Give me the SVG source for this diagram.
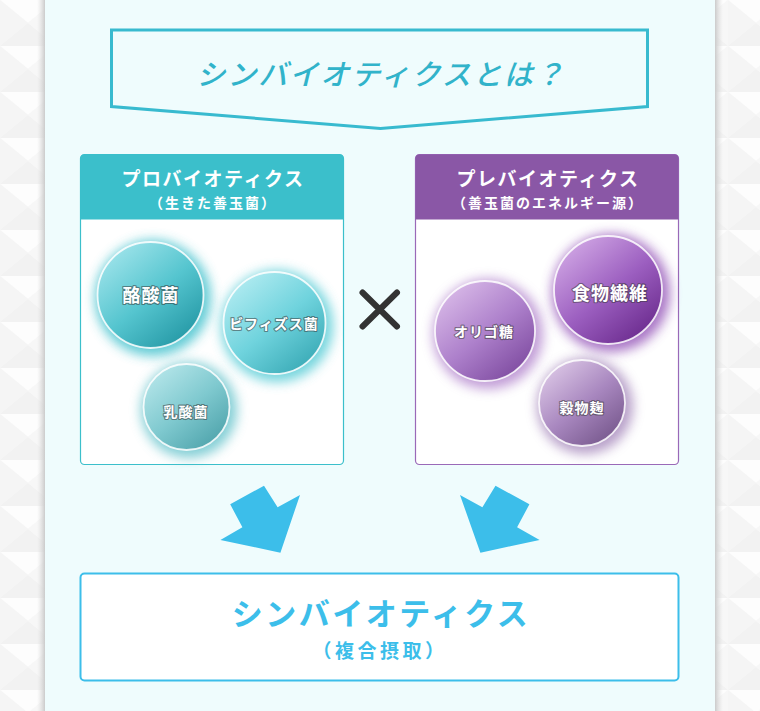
<svg xmlns="http://www.w3.org/2000/svg" width="760" height="711" viewBox="0 0 760 711">
<style>
.jp{font-family:"Noto Sans CJK JP","Noto Sans CJK SC",sans-serif;}
.hdr{fill:#ffffff;font-weight:700;text-anchor:middle;dominant-baseline:central;}
.ctext{fill:#ffffff;font-weight:700;text-anchor:middle;dominant-baseline:central;stroke:#3a3a3a;stroke-opacity:0.55;stroke-width:2.2;paint-order:stroke;stroke-linejoin:round;}
.ring{stroke:#ffffff;stroke-opacity:0.85;stroke-width:1.8;}
.arrow{fill:#3cbeea;}
</style>
<defs>
<pattern id="bgpat" x="0" y="0" width="56" height="46" patternUnits="userSpaceOnUse">
<rect width="56" height="46" fill="#f8f8f8"/>
<polygon points="0,0 56,0 28,23" fill="#fdfdfd"/>
<polygon points="0,46 56,46 28,23" fill="#f2f2f2"/>
<polygon points="0,0 28,23 0,46" fill="#f5f5f5"/>
<polygon points="56,0 28,23 56,46" fill="#f7f7f7"/>
</pattern>
<linearGradient id="shL" x1="0" y1="0" x2="1" y2="0">
<stop offset="0" stop-color="#e0e0e0" stop-opacity="0"/>
<stop offset="1" stop-color="#cbcbcb"/>
</linearGradient>
<linearGradient id="shR" x1="1" y1="0" x2="0" y2="0">
<stop offset="0" stop-color="#e0e0e0" stop-opacity="0"/>
<stop offset="1" stop-color="#cbcbcb"/>
</linearGradient>
<linearGradient id="gT1" x1="0.15" y1="0.1" x2="0.85" y2="0.95">
<stop offset="0" stop-color="#9be2e9"/>
<stop offset="0.5" stop-color="#55c5cf"/>
<stop offset="1" stop-color="#2397a4"/>
</linearGradient>
<linearGradient id="gT2" x1="0.15" y1="0.1" x2="0.85" y2="0.95">
<stop offset="0" stop-color="#aeeaf0"/>
<stop offset="0.5" stop-color="#6fd3dd"/>
<stop offset="1" stop-color="#38a9b5"/>
</linearGradient>
<linearGradient id="gT3" x1="0.15" y1="0.1" x2="0.85" y2="0.95">
<stop offset="0" stop-color="#b2e4e8"/>
<stop offset="0.5" stop-color="#7fc9cf"/>
<stop offset="1" stop-color="#4ea3ab"/>
</linearGradient>
<linearGradient id="gP1" x1="0.15" y1="0.1" x2="0.85" y2="0.95">
<stop offset="0" stop-color="#cda2e2"/>
<stop offset="0.5" stop-color="#9c5fc0"/>
<stop offset="1" stop-color="#6a2a8d"/>
</linearGradient>
<linearGradient id="gP2" x1="0.15" y1="0.1" x2="0.85" y2="0.95">
<stop offset="0" stop-color="#d6b6e6"/>
<stop offset="0.5" stop-color="#ad80cb"/>
<stop offset="1" stop-color="#7d4a9f"/>
</linearGradient>
<linearGradient id="gP3" x1="0.15" y1="0.1" x2="0.85" y2="0.95">
<stop offset="0" stop-color="#d8c2e3"/>
<stop offset="0.5" stop-color="#a887bf"/>
<stop offset="1" stop-color="#76578c"/>
</linearGradient>
<filter id="glow" x="-50%" y="-50%" width="200%" height="200%">
<feGaussianBlur stdDeviation="6"/>
</filter>
</defs>

<!-- background -->
<rect x="0" y="0" width="760" height="711" fill="url(#bgpat)"/>
<rect x="37" y="0" width="8" height="711" fill="url(#shL)"/>
<rect x="715" y="0" width="8" height="711" fill="url(#shR)"/>
<rect x="45" y="0" width="670" height="711" fill="#effcfd"/>

<g id="title">
<polygon points="111.5,30 647.5,30 647.5,106.5 380.5,128.5 111.5,106.5" fill="none" stroke="#38bacf" stroke-width="3"/>
<text class="jp" x="381" y="72" font-size="29" font-weight="500" font-style="italic" fill="#31b3ca" text-anchor="middle" dominant-baseline="central" letter-spacing="2">シンバイオティクスとは？</text>
</g>

<g id="probiotics">
<rect x="80.5" y="154.5" width="263" height="310" rx="4" fill="#ffffff" stroke="#3bbfcb" stroke-width="1.2"/>
<path d="M80.5,219.5 V158.5 a4,4 0 0 1 4,-4 H339.5 a4,4 0 0 1 4,4 V219.5 Z" fill="#3bbfcb"/>
<text class="jp hdr" x="213" y="177" font-size="19" letter-spacing="1.5">プロバイオティクス</text>
<text class="jp hdr" x="213" y="202" font-size="14" letter-spacing="2">（生きた善玉菌）</text>
</g>

<g id="rakusan">
<circle cx="153" cy="298" r="58" fill="#3bbfcb" opacity="0.8" filter="url(#glow)"/>
<circle class="ring" cx="150.5" cy="295" r="53" fill="url(#gT1)"/>
<text class="jp ctext" x="151" y="294" font-size="18" letter-spacing="1">酪酸菌</text>
</g>
<g id="bifidus">
<circle cx="277" cy="326" r="56" fill="#46c7d2" opacity="0.75" filter="url(#glow)"/>
<circle class="ring" cx="274.5" cy="323" r="51" fill="url(#gT2)"/>
<text class="jp ctext" x="274" y="323" font-size="14" letter-spacing="1">ビフィズス菌</text>
</g>
<g id="nyusan">
<circle cx="189" cy="410" r="48" fill="#5bbfc8" opacity="0.75" filter="url(#glow)"/>
<circle class="ring" cx="186.5" cy="407" r="43" fill="url(#gT3)"/>
<text class="jp ctext" x="186" y="411" font-size="14" letter-spacing="1">乳酸菌</text>
</g>

<g id="times">
<path d="M362.5,292.5 L397,326.5 M397,292.5 L362.5,326.5" stroke="#333333" stroke-width="6" stroke-linecap="round" fill="none"/>
</g>

<g id="prebiotics">
<rect x="415.5" y="154.5" width="263" height="310" rx="4" fill="#ffffff" stroke="#9a69b8" stroke-width="1.2"/>
<path d="M415.5,219.5 V158.5 a4,4 0 0 1 4,-4 H674.5 a4,4 0 0 1 4,4 V219.5 Z" fill="#8a57a6"/>
<text class="jp hdr" x="548" y="177" font-size="19" letter-spacing="1.5">プレバイオティクス</text>
<text class="jp hdr" x="548" y="202" font-size="14" letter-spacing="2">（善玉菌のエネルギー源）</text>
</g>

<g id="oligo">
<circle cx="488" cy="334" r="55" fill="#a874c6" opacity="0.7" filter="url(#glow)"/>
<circle class="ring" cx="485" cy="331" r="50" fill="url(#gP2)"/>
<text class="jp ctext" x="484" y="331" font-size="14" letter-spacing="1">オリゴ糖</text>
</g>
<g id="fiber">
<circle cx="611" cy="293" r="59" fill="#8d48b3" opacity="0.75" filter="url(#glow)"/>
<circle class="ring" cx="608" cy="290" r="54" fill="url(#gP1)"/>
<text class="jp ctext" x="610" y="292" font-size="18" letter-spacing="1">食物繊維</text>
</g>
<g id="koji">
<circle cx="585" cy="406" r="48" fill="#9a78b2" opacity="0.7" filter="url(#glow)"/>
<circle class="ring" cx="582" cy="403" r="43" fill="url(#gP3)"/>
<text class="jp ctext" x="582" y="407" font-size="14" letter-spacing="1">穀物麹</text>
</g>

<g id="connectors">
<polygon class="arrow" points="264,485.7 277.6,507.3 300,495 280.4,552.7 220.4,540 242.4,527.3 230.2,504.3"/>
<polygon class="arrow" points="495.5,485.7 529.4,504.3 517.1,527.3 539.6,540 480.4,552.7 460,495 482.4,507.3"/>
</g>

<g id="synbiotics">
<rect x="80.5" y="573.5" width="598" height="107" rx="4" fill="#ffffff" stroke="#3cbeea" stroke-width="2"/>
<text class="jp" x="381" y="611" font-size="31" font-weight="700" fill="#3cbeea" text-anchor="middle" dominant-baseline="central" letter-spacing="2.5">シンバイオティクス</text>
<text class="jp" x="380" y="649" font-size="19" font-weight="700" fill="#3cbeea" text-anchor="middle" dominant-baseline="central" letter-spacing="3.5">（複合摂取）</text>
</g>
</svg>
